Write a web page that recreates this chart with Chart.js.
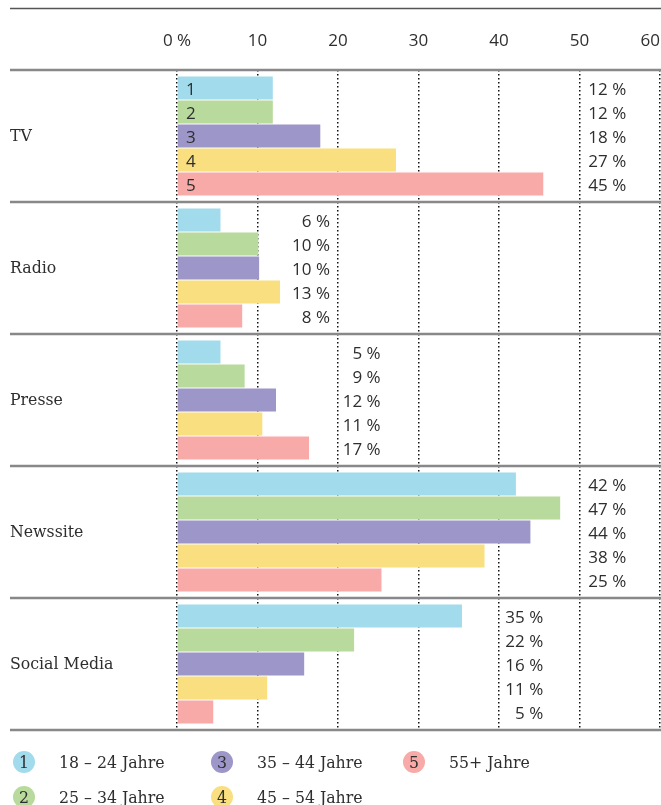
<!DOCTYPE html>
<html>
<head>
<meta charset="utf-8">
<script src="https://cdn.jsdelivr.net/npm/chart.js@4.4.1/dist/chart.umd.min.js"></script>
<style>
  html, body { margin: 0; padding: 0; background: #fff; }
  #wrap { width: 661px; height: 805px; position: relative; }
</style>
</head>
<body>
<div id="wrap"><canvas id="chart"></canvas></div>
<script>
const media = ["TV", "Radio", "Presse", "Newssite", "Social Media"];
const ageGroups = ["18 – 24 Jahre", "25 – 34 Jahre", "35 – 44 Jahre", "45 – 54 Jahre", "55+ Jahre"];
const colors = ["#a1dbec", "#b8da9c", "#9d96c8", "#f9df7f", "#f7aaa7"];

// bar lengths as drawn (per age group, in order of media)
const age1824 = [11.9, 5.4, 5.4, 42.1, 35.4];
const age2534 = [11.9, 10.1, 8.4, 47.6, 22.0];
const age3544 = [17.8, 10.2, 12.3, 43.9, 15.8];
const age4554 = [27.2, 12.8, 10.6, 38.2, 11.2];
const age55 = [45.5, 8.1, 16.4, 25.4, 4.5];

// printed percentages
const label1824 = [12, 6, 5, 42, 35];
const label2534 = [12, 10, 9, 47, 22];
const label3544 = [18, 10, 12, 44, 16];
const label4554 = [27, 13, 11, 38, 11];
const label55 = [45, 8, 17, 25, 5];

// where the column of printed values ends, on the value axis
const labelEnd = [55.8, 19.0, 25.3, 55.8, 45.5];
const xTicks = [0, 10, 20, 30, 40, 50, 60];

const series = [age1824, age2534, age3544, age4554, age55];
const printed = [label1824, label2534, label3544, label4554, label55];

const SANS = "'Open Sans', Roboto, sans-serif";
const SLAB = "'DejaVu Serif Condensed', 'DejaVu Serif', serif";
const INK = "#2e2e2e";

const extras = {
  id: "extras",
  afterDatasetsDraw(chart) {
    const { ctx, chartArea, scales } = chart;
    const x = scales.x;
    const W = chart.width;
    ctx.save();

    // top rule
    ctx.strokeStyle = "#555";
    ctx.lineWidth = 1.5;
    ctx.beginPath();
    ctx.moveTo(10, 8.5);
    ctx.lineTo(W, 8.5);
    ctx.stroke();

    // group separators
    const step = (chartArea.bottom - chartArea.top) / media.length;
    ctx.strokeStyle = "#888";
    ctx.lineWidth = 2.5;
    for (let i = 0; i <= media.length; i++) {
      const y = Math.round(chartArea.top + i * step);
      ctx.beginPath();
      ctx.moveTo(10, y);
      ctx.lineTo(W, y);
      ctx.stroke();
    }

    // axis ticks on top
    ctx.fillStyle = INK;
    ctx.font = "17px " + SANS;
    ctx.textBaseline = "middle";
    ctx.textAlign = "center";
    xTicks.forEach(v => {
      const txt = v === 0 ? "0 %" : String(v);
      const w = ctx.measureText(txt).width;
      let px = x.getPixelForValue(v);
      px = Math.min(px, W - w / 2 - 1);
      ctx.fillText(txt, px, 41);
    });

    // printed values
    ctx.textAlign = "right";
    chart.data.datasets.forEach((ds, i) => {
      const meta = chart.getDatasetMeta(i);
      meta.data.forEach((bar, j) => {
        ctx.fillText(printed[i][j] + " %", x.getPixelForValue(labelEnd[j]), bar.y + 2);
      });
    });

    // age group numbers inside the TV bars
    ctx.textAlign = "left";
    chart.data.datasets.forEach((ds, i) => {
      const bar = chart.getDatasetMeta(i).data[0];
      ctx.fillText(String(i + 1), chartArea.left + 9, bar.y + 2);
    });

    // legend, filled column by column
    const colX = [24, 222, 414];
    const rowY = [762, 797];
    ageGroups.forEach((g, i) => {
      const cx = colX[Math.floor(i / 2)];
      const cy = rowY[i % 2];
      ctx.fillStyle = colors[i];
      ctx.beginPath();
      ctx.arc(cx, cy, 11, 0, Math.PI * 2);
      ctx.fill();
      ctx.fillStyle = INK;
      ctx.font = "17.5px " + SLAB;
      ctx.textAlign = "center";
      ctx.fillText(String(i + 1), cx, cy + 1);
      ctx.textAlign = "left";
      ctx.fillText(g, cx + 35, cy + 1);
    });

    ctx.restore();
  }
};

new Chart(document.getElementById("chart"), {
  type: "bar",
  data: {
    labels: media,
    datasets: series.map((d, i) => ({
      label: ageGroups[i],
      data: d,
      backgroundColor: colors[i],
      borderWidth: 0,
      barPercentage: 0.96,
      categoryPercentage: 0.91
    }))
  },
  options: {
    indexAxis: "y",
    responsive: true,
    maintainAspectRatio: false,
    animation: false,
    layout: { padding: { top: 70, bottom: 75, left: 10, right: 1 } },
    plugins: { legend: { display: false }, tooltip: { enabled: false } },
    scales: {
      x: {
        position: "top",
        min: 0,
        max: 60,
        afterBuildTicks: s => { s.ticks = xTicks.map(v => ({ value: v })); },
        afterFit: s => { s.height = 0; },
        ticks: { display: false },
        grid: { color: "#111", lineWidth: 1.5, drawTicks: false },
        border: { display: false, dash: [1.5, 2.5] }
      },
      y: {
        afterFit: s => { s.width = 167; },
        grid: { display: false },
        border: { display: false },
        ticks: {
          crossAlign: "far",
          padding: 0,
          color: INK,
          font: { family: SLAB, size: 17.5 }
        }
      }
    }
  },
  plugins: [extras]
});
</script>
</body>
</html>
